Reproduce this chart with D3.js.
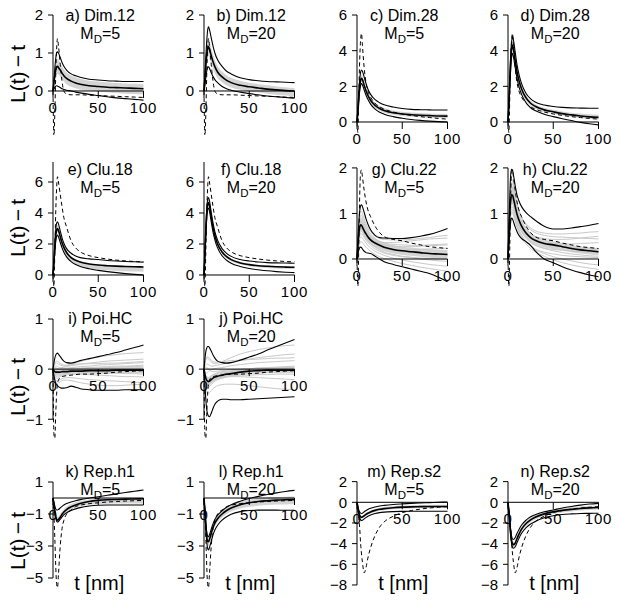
<!DOCTYPE html>
<html><head><meta charset="utf-8">
<script src="https://d3js.org/d3.v7.min.js"></script>
<style>body{margin:0;background:#fff}svg{display:block}</style>
</head><body>
<script>
// ---------------- DATA ----------------
const tGrid = [0,1,2,3,4,5,6,8,10,12,15,20,25,30,40,50,60,70,80,90,100];
const xTicks = [0,50,100];
const titles = ["a) Dim.12","b) Dim.12","c) Dim.28","d) Dim.28","e) Clu.18","f) Clu.18","g) Clu.22","h) Clu.22","i) Poi.HC","j) Poi.HC","k) Rep.h1","l) Rep.h1","m) Rep.s2","n) Rep.s2"];
const mdValues = [5,20,5,20,5,20,5,20,5,20,5,20,5,20];
const yTicks = [[0,1,2],[0,1,2],[0,2,4,6],[0,2,4,6],[0,2,4,6],[0,2,4,6],[0,1,2],[0,1,2],[-1,0,1],[-1,0,1],[-5,-3,-1,1],[-5,-3,-1,1],[-8,-6,-4,-2,0,2],[-8,-6,-4,-2,0,2]];
const yLimits = [[-1.158,2],[-1.158,2],[-0.729,6],[-0.729,6],[-0.839,7.29],[-0.839,7.29],[-0.637,2.13],[-0.637,2.13],[-1.414,1],[-1.414,1],[-5.875,1],[-5.875,1],[-8.68,1.965],[-8.68,1.965]];

const truthDim12 = [0,-1.2,-0.6,0.4,1.1,1.38,1.2,0.7,0.25,0.0,-0.08,-0.1,-0.1,-0.1,-0.11,-0.12,-0.13,-0.14,-0.15,-0.16,-0.17];
const truthDim28 = [0,-0.6,1.5,3.5,4.6,4.97,4.3,3.0,2.2,1.75,1.4,1.05,0.85,0.72,0.56,0.45,0.37,0.3,0.25,0.2,0.16];
const truthClu18 = [0,-0.75,1.5,4.0,5.6,6.34,6.0,5.2,4.4,3.7,3.1,2.2,1.75,1.5,1.25,1.12,1.03,0.96,0.91,0.87,0.85];
const truthClu22 = [0,-0.6,0.3,1.4,1.9,1.96,1.8,1.5,1.25,1.08,0.93,0.72,0.58,0.49,0.43,0.4,0.35,0.31,0.27,0.25,0.23];
const truthPoi = [0,-1.3,-1.38,-0.9,-0.5,-0.3,-0.22,-0.17,-0.15,-0.14,-0.13,-0.12,-0.11,-0.1,-0.1,-0.09,-0.08,-0.06,-0.05,-0.04,-0.03];
const truthRepH1 = [0,-1.0,-2.5,-4.2,-5.4,-5.6,-4.8,-3.0,-1.9,-1.4,-1.0,-0.75,-0.54,-0.45,-0.35,-0.3,-0.25,-0.22,-0.19,-0.17,-0.15];
const truthRepS2 = [0,-0.8,-1.6,-2.5,-4.0,-5.0,-5.8,-6.83,-6.3,-5.4,-4.4,-3.2,-2.4,-1.9,-1.35,-1.0,-0.8,-0.66,-0.55,-0.48,-0.42];
const truthCurves = [truthDim12,truthDim12,truthDim28,truthDim28,truthClu18,truthClu18,truthClu22,truthClu22,truthPoi,truthPoi,truthRepH1,truthRepH1,truthRepS2,truthRepS2];

const meanCurves = [
 [0,0.2,0.4,0.55,0.63,0.65,0.62,0.55,0.47,0.4,0.33,0.26,0.21,0.18,0.14,0.12,0.1,0.09,0.08,0.07,0.06],
 [0,0.3,0.65,0.95,1.12,1.17,1.1,0.93,0.77,0.64,0.5,0.37,0.28,0.22,0.15,0.11,0.08,0.05,0.03,0.01,0.0],
 [0,0.6,1.4,2.0,2.35,2.45,2.38,2.05,1.75,1.5,1.22,0.93,0.76,0.65,0.52,0.45,0.41,0.38,0.36,0.34,0.33],
 [0,1.0,2.3,3.4,4.1,4.32,4.1,3.45,2.8,2.35,1.85,1.35,1.05,0.88,0.68,0.57,0.47,0.4,0.34,0.29,0.26],
 [0,0.8,1.75,2.5,2.9,3.0,2.88,2.48,2.08,1.78,1.45,1.12,0.95,0.84,0.71,0.64,0.6,0.57,0.55,0.53,0.52],
 [0,1.35,2.8,3.95,4.55,4.68,4.48,3.75,3.07,2.55,2.0,1.48,1.18,0.99,0.78,0.67,0.6,0.56,0.53,0.51,0.5],
 [0,0.3,0.55,0.7,0.75,0.74,0.7,0.62,0.55,0.49,0.42,0.35,0.3,0.26,0.21,0.18,0.16,0.14,0.12,0.11,0.1],
 [0,0.5,1.0,1.3,1.41,1.4,1.33,1.15,0.98,0.86,0.72,0.57,0.47,0.41,0.34,0.31,0.27,0.23,0.2,0.18,0.16],
 [0,-0.03,-0.05,-0.06,-0.06,-0.06,-0.06,-0.06,-0.05,-0.05,-0.05,-0.04,-0.04,-0.04,-0.03,-0.03,-0.03,-0.02,-0.02,-0.02,-0.02],
 [0,-0.1,-0.18,-0.22,-0.24,-0.25,-0.24,-0.21,-0.18,-0.16,-0.14,-0.12,-0.1,-0.09,-0.06,-0.04,-0.03,-0.02,-0.02,-0.02,-0.02],
 [0,-0.4,-0.8,-1.15,-1.33,-1.38,-1.35,-1.2,-1.02,-0.88,-0.72,-0.55,-0.43,-0.34,-0.22,-0.15,-0.11,-0.09,-0.07,-0.06,-0.05],
 [0,-0.8,-1.7,-2.4,-2.7,-2.73,-2.6,-2.2,-1.85,-1.58,-1.3,-1.0,-0.78,-0.62,-0.42,-0.3,-0.22,-0.17,-0.13,-0.11,-0.1],
 [0,-0.5,-0.95,-1.25,-1.4,-1.45,-1.42,-1.3,-1.17,-1.06,-0.93,-0.78,-0.68,-0.61,-0.52,-0.47,-0.44,-0.42,-0.41,-0.4,-0.4],
 [0,-0.9,-2.0,-3.0,-3.7,-4.0,-4.1,-3.95,-3.5,-3.1,-2.6,-2.05,-1.7,-1.45,-1.12,-0.92,-0.78,-0.68,-0.6,-0.54,-0.5]
];
const upperCurves = [
 [0,0.3,0.6,0.85,1.0,1.03,1.0,0.88,0.75,0.65,0.55,0.45,0.4,0.36,0.31,0.29,0.27,0.26,0.25,0.25,0.25],
 [0,0.45,0.9,1.3,1.6,1.69,1.62,1.4,1.18,1.0,0.82,0.65,0.52,0.45,0.35,0.3,0.27,0.25,0.24,0.23,0.22],
 [0,0.8,1.7,2.4,2.8,2.92,2.85,2.5,2.15,1.85,1.55,1.25,1.08,0.97,0.84,0.76,0.71,0.69,0.68,0.67,0.67],
 [0,1.2,2.6,3.8,4.5,4.79,4.6,3.9,3.2,2.7,2.15,1.6,1.3,1.12,0.95,0.87,0.82,0.79,0.78,0.77,0.77],
 [0,0.9,2.0,2.9,3.35,3.44,3.3,2.85,2.4,2.05,1.7,1.4,1.22,1.12,1.04,1.0,0.94,0.9,0.87,0.85,0.83],
 [0,1.5,3.0,4.2,4.85,5.0,4.8,4.05,3.35,2.8,2.25,1.7,1.4,1.2,1.0,0.9,0.84,0.8,0.78,0.77,0.76],
 [0,0.4,0.8,1.05,1.17,1.19,1.15,1.02,0.88,0.77,0.64,0.52,0.47,0.46,0.45,0.45,0.47,0.5,0.54,0.6,0.67],
 [0,0.7,1.4,1.85,1.97,1.95,1.85,1.6,1.4,1.28,1.15,1.02,0.93,0.85,0.72,0.66,0.66,0.68,0.71,0.74,0.78],
 [0,0.12,0.22,0.28,0.31,0.32,0.3,0.25,0.2,0.16,0.13,0.12,0.14,0.17,0.21,0.25,0.29,0.33,0.38,0.43,0.48],
 [0,0.2,0.35,0.42,0.45,0.45,0.43,0.36,0.28,0.22,0.16,0.13,0.12,0.13,0.18,0.24,0.3,0.38,0.45,0.52,0.59],
 [0,-0.25,-0.5,-0.68,-0.75,-0.75,-0.72,-0.62,-0.52,-0.44,-0.35,-0.25,-0.17,-0.1,0.0,0.08,0.17,0.26,0.34,0.42,0.5],
 [0,-0.7,-1.5,-2.1,-2.38,-2.42,-2.3,-1.95,-1.6,-1.35,-1.08,-0.8,-0.58,-0.42,-0.2,-0.03,0.1,0.22,0.32,0.41,0.48],
 [0,-0.4,-0.75,-0.95,-1.05,-1.08,-1.05,-0.92,-0.8,-0.7,-0.58,-0.45,-0.36,-0.3,-0.21,-0.15,-0.1,-0.06,-0.03,0.0,0.03],
 [0,-0.8,-1.8,-2.7,-3.3,-3.55,-3.6,-3.4,-3.0,-2.65,-2.2,-1.72,-1.4,-1.2,-0.92,-0.74,-0.55,-0.4,-0.27,-0.17,-0.1]
];
const lowerCurves = [
 [0,0.05,0.1,0.13,0.14,0.13,0.12,0.09,0.06,0.04,0.02,0.0,-0.03,-0.05,-0.09,-0.12,-0.15,-0.18,-0.2,-0.22,-0.24],
 [0,0.15,0.35,0.52,0.62,0.64,0.6,0.48,0.38,0.3,0.22,0.12,0.06,0.02,-0.03,-0.07,-0.1,-0.13,-0.15,-0.17,-0.19],
 [0,0.5,1.2,1.75,2.05,2.15,2.08,1.78,1.5,1.27,1.0,0.72,0.55,0.44,0.3,0.21,0.14,0.09,0.05,0.02,0.0],
 [0,0.9,2.0,3.0,3.65,3.85,3.65,3.05,2.45,2.0,1.55,1.08,0.8,0.64,0.44,0.3,0.18,0.08,-0.02,-0.1,-0.16],
 [0,0.7,1.5,2.15,2.5,2.58,2.47,2.1,1.75,1.47,1.17,0.86,0.67,0.55,0.4,0.3,0.22,0.15,0.09,0.04,0.0],
 [0,1.2,2.55,3.65,4.2,4.32,4.12,3.42,2.77,2.27,1.75,1.24,0.95,0.76,0.55,0.42,0.34,0.27,0.22,0.18,0.15],
 [0,0.1,0.2,0.25,0.26,0.25,0.22,0.17,0.14,0.13,0.12,0.06,0.0,-0.06,-0.12,-0.17,-0.22,-0.27,-0.32,-0.4,-0.5],
 [0,0.3,0.6,0.82,0.9,0.88,0.82,0.7,0.6,0.52,0.45,0.38,0.3,0.18,0.0,-0.08,-0.17,-0.24,-0.3,-0.35,-0.39],
 [0,-0.12,-0.22,-0.28,-0.31,-0.33,-0.35,-0.37,-0.38,-0.38,-0.37,-0.34,-0.36,-0.39,-0.41,-0.42,-0.42,-0.42,-0.41,-0.41,-0.41],
 [0,-0.3,-0.6,-0.8,-0.9,-0.94,-0.95,-0.88,-0.78,-0.7,-0.64,-0.6,-0.6,-0.61,-0.61,-0.6,-0.59,-0.58,-0.57,-0.56,-0.55],
 [0,-0.45,-0.9,-1.25,-1.45,-1.5,-1.47,-1.33,-1.18,-1.05,-0.92,-0.78,-0.68,-0.6,-0.5,-0.45,-0.44,-0.44,-0.44,-0.44,-0.44],
 [0,-0.9,-1.9,-2.7,-3.15,-3.25,-3.1,-2.7,-2.3,-2.0,-1.7,-1.38,-1.17,-1.02,-0.85,-0.78,-0.76,-0.76,-0.76,-0.77,-0.77],
 [0,-0.6,-1.15,-1.5,-1.7,-1.76,-1.73,-1.6,-1.47,-1.35,-1.22,-1.08,-1.0,-0.95,-0.9,-0.88,-0.87,-0.87,-0.87,-0.87,-0.87],
 [0,-1.0,-2.2,-3.3,-4.0,-4.35,-4.45,-4.3,-3.9,-3.5,-3.0,-2.45,-2.1,-1.85,-1.5,-1.3,-1.18,-1.12,-1.08,-1.07,-1.06]
];
const bandHigh = [
 [0,0.28,0.52,0.72,0.82,0.85,0.82,0.74,0.65,0.57,0.49,0.41,0.36,0.32,0.27,0.25,0.23,0.21,0.2,0.19,0.18],
 [0,0.4,0.85,1.17,1.36,1.41,1.34,1.14,0.96,0.81,0.66,0.51,0.41,0.35,0.27,0.22,0.18,0.15,0.12,0.1,0.08],
 [0,0.7,1.55,2.2,2.58,2.68,2.6,2.25,1.93,1.67,1.38,1.08,0.9,0.79,0.65,0.58,0.53,0.5,0.48,0.46,0.45],
 [0,1.1,2.5,3.65,4.35,4.55,4.33,3.66,3.0,2.53,2.02,1.5,1.19,1.01,0.8,0.68,0.59,0.52,0.47,0.43,0.4],
 [0,0.88,1.9,2.7,3.12,3.22,3.09,2.66,2.23,1.9,1.55,1.2,1.0,0.88,0.74,0.66,0.61,0.58,0.56,0.54,0.53],
 [0,1.45,2.95,4.12,4.72,4.85,4.64,3.9,3.2,2.67,2.11,1.58,1.27,1.07,0.85,0.73,0.66,0.61,0.58,0.56,0.55],
 [0,0.36,0.65,0.82,0.88,0.87,0.83,0.74,0.66,0.6,0.52,0.44,0.39,0.35,0.3,0.27,0.25,0.23,0.22,0.21,0.2],
 [0,0.58,1.15,1.48,1.6,1.59,1.51,1.31,1.12,0.99,0.84,0.68,0.57,0.5,0.43,0.39,0.35,0.31,0.28,0.26,0.24],
 [0,0.03,0.02,0.01,0.01,0.01,0.01,0.0,0.01,0.01,0.01,0.02,0.02,0.02,0.03,0.03,0.03,0.04,0.04,0.04,0.04],
 [0,-0.04,-0.1,-0.13,-0.15,-0.16,-0.15,-0.13,-0.1,-0.09,-0.07,-0.05,-0.04,-0.03,0.0,0.02,0.03,0.04,0.04,0.04,0.04],
 [0,-0.3,-0.65,-0.97,-1.14,-1.18,-1.15,-1.0,-0.83,-0.7,-0.55,-0.38,-0.27,-0.19,-0.09,-0.04,-0.02,-0.01,0.0,0.0,0.0],
 [0,-0.65,-1.45,-2.1,-2.42,-2.47,-2.35,-1.98,-1.63,-1.37,-1.1,-0.8,-0.58,-0.42,-0.22,-0.1,-0.02,0.03,0.06,0.08,0.09],
 [0,-0.42,-0.82,-1.1,-1.25,-1.3,-1.27,-1.15,-1.02,-0.91,-0.78,-0.62,-0.52,-0.45,-0.36,-0.31,-0.28,-0.26,-0.25,-0.24,-0.24],
 [0,-0.8,-1.8,-2.75,-3.45,-3.75,-3.85,-3.7,-3.25,-2.85,-2.36,-1.82,-1.48,-1.24,-0.92,-0.72,-0.58,-0.48,-0.4,-0.34,-0.3]
];
const bandLow = [
 [0,0.12,0.28,0.38,0.44,0.45,0.43,0.37,0.31,0.25,0.18,0.11,0.07,0.04,0.01,-0.01,-0.03,-0.05,-0.07,-0.08,-0.09],
 [0,0.2,0.46,0.73,0.88,0.93,0.87,0.72,0.58,0.47,0.34,0.23,0.15,0.09,0.03,-0.01,-0.04,-0.07,-0.1,-0.12,-0.14],
 [0,0.5,1.25,1.82,2.14,2.23,2.16,1.86,1.58,1.34,1.07,0.79,0.63,0.52,0.4,0.33,0.29,0.26,0.24,0.22,0.21],
 [0,0.9,2.1,3.15,3.85,4.08,3.87,3.24,2.6,2.17,1.68,1.2,0.91,0.75,0.56,0.46,0.36,0.29,0.23,0.18,0.14],
 [0,0.72,1.6,2.28,2.66,2.75,2.63,2.24,1.84,1.54,1.2,0.86,0.68,0.56,0.42,0.35,0.3,0.26,0.24,0.22,0.21],
 [0,1.25,2.65,3.78,4.38,4.5,4.3,3.6,2.93,2.42,1.88,1.37,1.07,0.89,0.69,0.57,0.5,0.45,0.42,0.4,0.38],
 [0,0.24,0.45,0.58,0.62,0.61,0.57,0.5,0.44,0.38,0.32,0.26,0.21,0.17,0.12,0.09,0.07,0.05,0.03,0.02,0.01],
 [0,0.42,0.85,1.12,1.22,1.21,1.15,0.99,0.84,0.73,0.6,0.46,0.37,0.32,0.25,0.22,0.19,0.15,0.12,0.1,0.08],
 [0,-0.09,-0.12,-0.13,-0.13,-0.13,-0.13,-0.12,-0.11,-0.11,-0.11,-0.1,-0.1,-0.1,-0.09,-0.09,-0.09,-0.08,-0.08,-0.08,-0.08],
 [0,-0.16,-0.26,-0.31,-0.33,-0.34,-0.33,-0.29,-0.26,-0.23,-0.21,-0.19,-0.16,-0.15,-0.12,-0.1,-0.09,-0.08,-0.08,-0.08,-0.08],
 [0,-0.5,-0.95,-1.32,-1.5,-1.56,-1.53,-1.38,-1.2,-1.05,-0.89,-0.72,-0.6,-0.52,-0.43,-0.38,-0.36,-0.35,-0.35,-0.35,-0.35],
 [0,-0.95,-1.95,-2.7,-2.98,-3.0,-2.86,-2.43,-2.07,-1.8,-1.52,-1.22,-1.0,-0.85,-0.66,-0.55,-0.48,-0.44,-0.41,-0.4,-0.39],
 [0,-0.58,-1.08,-1.4,-1.55,-1.6,-1.57,-1.45,-1.32,-1.21,-1.08,-0.94,-0.84,-0.77,-0.68,-0.63,-0.6,-0.58,-0.57,-0.56,-0.56],
 [0,-1.0,-2.2,-3.25,-3.95,-4.25,-4.35,-4.2,-3.75,-3.35,-2.84,-2.28,-1.92,-1.66,-1.32,-1.12,-0.98,-0.88,-0.8,-0.74,-0.7]
];
const samplesClu22MD5 = [
 [0,0.35,0.7,0.95,1.05,1.05,1.0,0.88,0.77,0.68,0.6,0.5,0.45,0.43,0.42,0.42,0.43,0.45,0.47,0.5,0.52],
 [0,0.3,0.6,0.8,0.88,0.9,0.86,0.77,0.68,0.6,0.52,0.43,0.38,0.35,0.32,0.31,0.3,0.3,0.31,0.32,0.33],
 [0,0.25,0.5,0.65,0.72,0.73,0.7,0.62,0.55,0.49,0.42,0.34,0.28,0.24,0.19,0.16,0.14,0.13,0.12,0.12,0.12],
 [0,0.2,0.42,0.55,0.6,0.6,0.58,0.51,0.45,0.4,0.34,0.26,0.2,0.15,0.1,0.06,0.04,0.02,0.01,0.0,-0.01],
 [0,0.15,0.32,0.44,0.48,0.48,0.46,0.4,0.35,0.3,0.24,0.17,0.12,0.08,0.02,-0.02,-0.06,-0.09,-0.12,-0.14,-0.16],
 [0,0.12,0.25,0.34,0.38,0.38,0.36,0.31,0.26,0.22,0.17,0.1,0.05,0.01,-0.05,-0.1,-0.14,-0.18,-0.21,-0.24,-0.27],
 [0,0.3,0.62,0.85,0.95,0.96,0.92,0.82,0.72,0.64,0.55,0.45,0.39,0.36,0.36,0.38,0.4,0.42,0.44,0.45,0.46],
 [0,0.22,0.45,0.6,0.66,0.67,0.64,0.57,0.5,0.45,0.39,0.32,0.27,0.23,0.2,0.19,0.2,0.21,0.22,0.23,0.24],
 [0,0.18,0.38,0.5,0.55,0.55,0.53,0.47,0.41,0.36,0.3,0.22,0.17,0.13,0.08,0.05,0.03,0.0,-0.02,-0.04,-0.05],
 [0,0.28,0.55,0.75,0.82,0.83,0.8,0.71,0.63,0.56,0.48,0.39,0.34,0.31,0.28,0.27,0.27,0.28,0.29,0.3,0.31]
];
const samplesClu22MD20 = [
 [0,0.6,1.2,1.6,1.75,1.74,1.65,1.43,1.23,1.08,0.92,0.77,0.68,0.62,0.57,0.55,0.55,0.56,0.57,0.59,0.6],
 [0,0.55,1.1,1.45,1.58,1.57,1.49,1.3,1.12,0.98,0.83,0.67,0.56,0.5,0.45,0.43,0.43,0.44,0.46,0.48,0.5],
 [0,0.5,1.0,1.32,1.44,1.43,1.36,1.18,1.0,0.87,0.72,0.57,0.47,0.4,0.33,0.29,0.27,0.25,0.23,0.22,0.21],
 [0,0.45,0.9,1.2,1.3,1.29,1.22,1.05,0.89,0.77,0.63,0.48,0.38,0.31,0.23,0.18,0.14,0.11,0.09,0.07,0.06],
 [0,0.4,0.8,1.05,1.15,1.14,1.08,0.93,0.78,0.66,0.53,0.39,0.29,0.21,0.12,0.05,0.0,-0.04,-0.08,-0.11,-0.13],
 [0,0.35,0.7,0.95,1.03,1.02,0.96,0.82,0.69,0.58,0.46,0.33,0.23,0.16,0.06,-0.02,-0.08,-0.13,-0.17,-0.2,-0.23],
 [0,0.58,1.15,1.52,1.66,1.65,1.57,1.37,1.18,1.04,0.89,0.74,0.64,0.58,0.52,0.49,0.48,0.47,0.46,0.45,0.44],
 [0,0.48,0.95,1.26,1.37,1.36,1.29,1.12,0.96,0.84,0.7,0.56,0.47,0.41,0.36,0.34,0.33,0.33,0.34,0.35,0.36],
 [0,0.42,0.85,1.13,1.23,1.22,1.15,0.99,0.84,0.72,0.59,0.45,0.36,0.3,0.24,0.21,0.19,0.17,0.16,0.15,0.14],
 [0,0.38,0.76,1.0,1.09,1.08,1.02,0.87,0.73,0.62,0.5,0.37,0.28,0.22,0.15,0.11,0.08,0.06,0.05,0.04,0.03]
];
const samplesPoiMD5 = [
 [0,0.05,0.1,0.12,0.12,0.11,0.1,0.08,0.07,0.06,0.07,0.09,0.12,0.15,0.2,0.24,0.27,0.29,0.31,0.32,0.33],
 [0,0.03,0.05,0.06,0.06,0.05,0.04,0.03,0.03,0.04,0.05,0.07,0.08,0.1,0.12,0.14,0.16,0.17,0.18,0.19,0.2],
 [0,-0.02,-0.03,-0.03,-0.02,-0.01,0.0,0.01,0.02,0.02,0.02,0.03,0.04,0.05,0.06,0.08,0.09,0.1,0.11,0.12,0.13],
 [0,-0.05,-0.08,-0.1,-0.1,-0.09,-0.08,-0.07,-0.06,-0.05,-0.04,-0.03,-0.02,-0.01,0.0,0.02,0.03,0.04,0.05,0.05,0.06],
 [0,-0.08,-0.14,-0.17,-0.18,-0.18,-0.17,-0.15,-0.13,-0.12,-0.11,-0.1,-0.1,-0.1,-0.11,-0.12,-0.13,-0.14,-0.15,-0.15,-0.16],
 [0,-0.1,-0.18,-0.22,-0.24,-0.24,-0.23,-0.21,-0.19,-0.18,-0.17,-0.17,-0.18,-0.19,-0.21,-0.22,-0.23,-0.24,-0.25,-0.26,-0.27],
 [0,0.02,0.03,0.03,0.02,0.01,0.0,-0.01,-0.01,-0.01,0.0,0.01,0.02,0.02,0.03,0.04,0.05,0.06,0.06,0.07,0.08],
 [0,-0.06,-0.11,-0.14,-0.15,-0.15,-0.14,-0.13,-0.12,-0.1,-0.08,-0.06,-0.05,-0.05,-0.06,-0.07,-0.08,-0.08,-0.09,-0.09,-0.1],
 [0,0.07,0.12,0.15,0.16,0.15,0.14,0.11,0.09,0.08,0.08,0.09,0.1,0.1,0.11,0.11,0.12,0.12,0.13,0.14,0.15],
 [0,-0.12,-0.2,-0.25,-0.27,-0.28,-0.27,-0.25,-0.23,-0.22,-0.22,-0.23,-0.25,-0.27,-0.3,-0.32,-0.33,-0.33,-0.32,-0.31,-0.3]
];
const samplesPoiMD20 = [
 [0,0.1,0.18,0.22,0.22,0.2,0.18,0.14,0.12,0.11,0.12,0.15,0.19,0.23,0.3,0.35,0.39,0.42,0.45,0.47,0.48],
 [0,0.05,0.08,0.1,0.1,0.09,0.08,0.06,0.06,0.07,0.08,0.1,0.12,0.14,0.17,0.2,0.23,0.25,0.27,0.29,0.3],
 [0,-0.05,-0.08,-0.08,-0.07,-0.05,-0.03,-0.01,0.0,0.01,0.02,0.03,0.05,0.07,0.09,0.11,0.13,0.14,0.15,0.16,0.17],
 [0,-0.12,-0.2,-0.24,-0.25,-0.24,-0.22,-0.19,-0.16,-0.14,-0.12,-0.09,-0.07,-0.05,-0.03,-0.01,0.0,0.01,0.02,0.03,0.04],
 [0,-0.18,-0.3,-0.36,-0.38,-0.37,-0.35,-0.31,-0.27,-0.24,-0.21,-0.18,-0.16,-0.15,-0.15,-0.16,-0.17,-0.18,-0.19,-0.2,-0.21],
 [0,-0.22,-0.38,-0.46,-0.49,-0.49,-0.47,-0.43,-0.39,-0.36,-0.33,-0.31,-0.3,-0.3,-0.31,-0.33,-0.35,-0.37,-0.39,-0.4,-0.41],
 [0,0.02,0.03,0.03,0.02,0.0,-0.02,-0.04,-0.05,-0.05,-0.04,-0.03,-0.02,-0.01,0.0,0.01,0.02,0.03,0.04,0.05,0.06],
 [0,-0.15,-0.25,-0.3,-0.31,-0.3,-0.28,-0.25,-0.22,-0.2,-0.18,-0.16,-0.14,-0.13,-0.12,-0.12,-0.11,-0.11,-0.1,-0.1,-0.1],
 [0,0.12,0.2,0.24,0.25,0.24,0.22,0.18,0.15,0.14,0.14,0.15,0.16,0.17,0.18,0.19,0.2,0.21,0.22,0.22,0.23],
 [0,-0.08,-0.14,-0.17,-0.18,-0.17,-0.16,-0.13,-0.11,-0.09,-0.07,-0.05,-0.04,-0.03,-0.02,-0.01,0.0,0.0,0.0,0.01,0.01]
];
const sampleCurves = [[],[],[],[],[],[],samplesClu22MD5,samplesClu22MD20,samplesPoiMD5,samplesPoiMD20,[],[],[],[]];
const yAxisLabel = "L(t)\u2009\u2212\u2009t";
const xAxisLabel = "t [nm]";

// ---------------- LAYOUT ----------------
const W = 619, H = 601;
const colX = [53, 204, 357, 508];
const rowRange = [[15,135],[162,288],[319,440],[482,592]];
const rowOf = [0,0,0,0,1,1,1,1,2,2,3,3,3,3];
const colOf = [0,1,2,3,0,1,2,3,0,1,0,1,2,3];
const titleY = [21,175,324,477];
const mdY = [39,193,342,495];
const ylabY = [74,228,387,541];
const FONT = '"Liberation Sans", Arial, Helvetica, sans-serif';
const fmt = d => d < 0 ? "\u2212" + Math.abs(d) : String(d);

const svg = d3.select("body").append("svg").attr("width", W).attr("height", H)
  .style("font-family", FONT);
svg.append("rect").attr("width", W).attr("height", H).attr("fill", "#fff");
const defs = svg.append("defs");

titles.forEach((title, i) => {
  const r = rowOf[i], c = colOf[i];
  const [top, bottom] = rowRange[r];
  const ax = colX[c];
  const x = d3.scaleLinear().domain([0, 100]).range([ax, ax + 90.5]);
  const y = d3.scaleLinear().domain(yLimits[i]).range([bottom, top]);
  const cid = "clip" + i;
  defs.append("clipPath").attr("id", cid).append("rect")
    .attr("x", ax - 8).attr("y", top - 6).attr("width", 110).attr("height", bottom - top + 6);
  const g = svg.append("g");
  const pg = g.append("g").attr("clip-path", `url(#${cid})`);

  const line = arr => d3.line().x((d, j) => x(tGrid[j])).y(d => y(d)).curve(d3.curveMonotoneX)(arr);
  const area = d3.area().x((d, j) => x(tGrid[j])).y0((d, j) => y(bandLow[i][j])).y1((d, j) => y(bandHigh[i][j]))
    .curve(d3.curveMonotoneX);

  pg.append("path").attr("d", area(tGrid)).attr("fill", "#d4d4d4").attr("stroke", "none");
  sampleCurves[i].forEach(s => {
    pg.append("path").attr("d", line(s)).attr("fill", "none").attr("stroke", "#c8c8c8").attr("stroke-width", 1);
  });

  const y0 = y(0);
  g.append("line").attr("x1", x(0)).attr("x2", x(100)).attr("y1", y0).attr("y2", y0)
    .attr("stroke", "#000").attr("stroke-width", 1);
  xTicks.forEach(t => {
    g.append("line").attr("x1", x(t)).attr("x2", x(t)).attr("y1", y0).attr("y2", y0 + 7)
      .attr("stroke", "#000").attr("stroke-width", 1);
    g.append("text").attr("x", x(t)).attr("y", y0 + 22).attr("text-anchor", "middle")
      .attr("font-size", 15).attr("letter-spacing", 0.8).text(fmt(t));
  });
  const yt = yTicks[i];
  const yTop = (r === 1 && c < 2) ? top : y(d3.max(yt));
  g.append("line").attr("x1", ax).attr("x2", ax).attr("y1", y(d3.min(yt))).attr("y2", yTop)
    .attr("stroke", "#000").attr("stroke-width", 1);
  yt.forEach(v => {
    g.append("line").attr("x1", ax - 5).attr("x2", ax).attr("y1", y(v)).attr("y2", y(v))
      .attr("stroke", "#000").attr("stroke-width", 1);
    g.append("text").attr("x", ax - 10).attr("y", y(v)).attr("dy", "0.36em").attr("text-anchor", "end")
      .attr("font-size", 15).text(fmt(v));
  });

  pg.append("path").attr("d", line(upperCurves[i])).attr("fill", "none").attr("stroke", "#000").attr("stroke-width", 1.1);
  pg.append("path").attr("d", line(lowerCurves[i])).attr("fill", "none").attr("stroke", "#000").attr("stroke-width", 1.1);
  pg.append("path").attr("d", line(meanCurves[i])).attr("fill", "none").attr("stroke", "#000").attr("stroke-width", 1.6);
  pg.append("path").attr("d", line(truthCurves[i])).attr("fill", "none").attr("stroke", "#000")
    .attr("stroke-width", 1).attr("stroke-dasharray", "4,3");

  const cx = x(50) + 2;
  g.append("text").attr("x", cx).attr("y", titleY[r]).attr("text-anchor", "middle")
    .attr("font-size", 16).text(title);
  const md = g.append("text").attr("x", cx).attr("y", mdY[r]).attr("text-anchor", "middle").attr("font-size", 16);
  md.append("tspan").text("M");
  md.append("tspan").attr("font-size", 11.5).attr("dy", 4).text("D");
  md.append("tspan").attr("dy", -4).text("=" + mdValues[i]);

  if (c === 0) {
    svg.append("text").attr("transform", `translate(18,${ylabY[r]}) rotate(-90)`)
      .attr("text-anchor", "middle").attr("dy", "0.35em").attr("font-size", 21).text(yAxisLabel);
  }
  if (r === 3) {
    svg.append("text").attr("x", cx - 1).attr("y", 590).attr("text-anchor", "middle")
      .attr("font-size", 20).text(xAxisLabel);
  }
});
</script>
</body></html>
